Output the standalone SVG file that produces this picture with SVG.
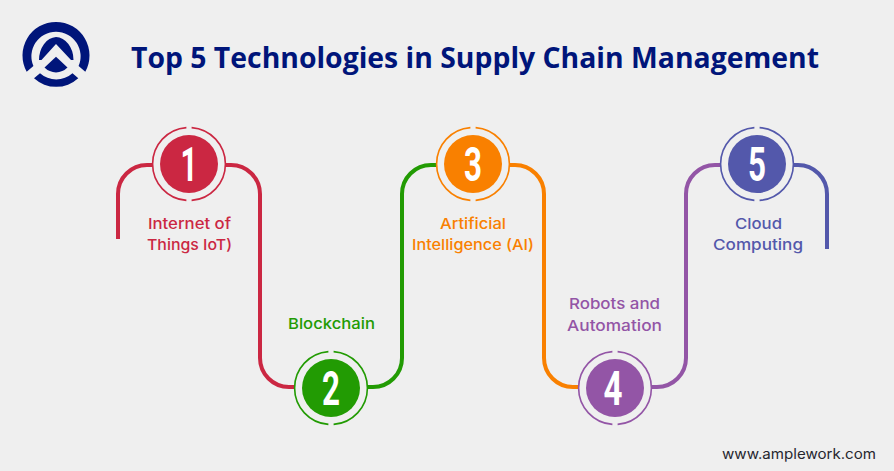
<svg xmlns="http://www.w3.org/2000/svg" xmlns:xlink="http://www.w3.org/1999/xlink" width="894" height="471" viewBox="0 0 894 471">
<style>
.c{fill:none;stroke-width:4}
.lb{font-family:"Inter","Noto Sans","Liberation Sans",sans-serif;font-weight:500;font-size:15px;text-anchor:middle}
.num{font-family:"Roboto","Liberation Sans",sans-serif;font-weight:700;font-size:49px;fill:#fff;text-anchor:middle}
.r{fill:none;stroke:currentColor;stroke-width:1.6}
.d{fill:currentColor}
#title{font-family:"Open Sans","Noto Sans","Liberation Sans",sans-serif;font-weight:700;font-size:28px;fill:#00157a}
#url{font-family:"Inter","Liberation Sans",sans-serif;font-size:14px;fill:#26262e}
</style>
<defs>
<g id="badge"><circle class="d" r="29"/><path class="r" d="M-2.6-36.4A36.5 36.5 0 0 0-2.6 36.4M2.6 36.4A36.5 36.5 0 0 0 2.6-36.4"/></g>
</defs>
<rect width="894" height="471" fill="#efefef"/>
<g id="logo" fill="#00157a">
<path d="M26.7 71.7A33.5 33.5 0 1 1 85.3 71.7L78.6 66A24.6 24.6 0 1 0 33.4 66Z"/>
<path d="M34 78.3L40 73.3A24.5 24.5 0 0 0 72.5 73.3L78.3 78.3A33 33 0 0 1 34 78.3Z"/>
<path d="M39 60A18 23 0 0 1 56 37A18 23 0 0 1 73.5 60L71 60L56 44L41.5 60Z"/>
<path d="M56 56.7L67.5 67.5A16 16 0 0 1 44.5 67.5Z"/>
</g>
<text id="title" x="131" y="67.500" textLength="688" lengthAdjust="spacingAndGlyphs">Top 5 Technologies in Supply Chain Management</text>
<g id="connectors" class="connectors">
<path class="c" stroke="#cb2742" d="M118 239V194A29 29 0 0 1 147 165H153"/>
<path class="c" stroke="#cb2742" d="M225 165H231A29 29 0 0 1 260 194V358A29 29 0 0 0 289 387H295"/>
<path class="c" stroke="#229b03" d="M367 387H373A29 29 0 0 0 402 358V194A29 29 0 0 1 431 165H437"/>
<path class="c" stroke="#f98000" d="M509 165H515A29 29 0 0 1 544 194V358A29 29 0 0 0 573 387H579"/>
<path class="c" stroke="#9355a6" d="M651 387H657A29 29 0 0 0 686 358V194A29 29 0 0 1 715 165H721"/>
<path class="c" stroke="#5358ab" d="M793 165H798A29 29 0 0 1 827 194V249"/>
</g>
<g id="node1" color="#cb2742"><use href="#badge" x="189" y="164"/><text class="num" x="189" y="181" textLength="17" lengthAdjust="spacingAndGlyphs">1</text>
<text class="lb" fill="#cb2742" x="189.500" y="229" textLength="83" lengthAdjust="spacingAndGlyphs">Internet of</text><text class="lb" fill="#cb2742" x="189.500" y="250" textLength="85" lengthAdjust="spacingAndGlyphs">Things IoT)</text></g>
<g id="node2" color="#229b03"><use href="#badge" x="331" y="388"/><text class="num" x="331" y="405" textLength="18" lengthAdjust="spacingAndGlyphs">2</text>
<text class="lb" fill="#229b03" x="331.500" y="329" textLength="87" lengthAdjust="spacingAndGlyphs">Blockchain</text></g>
<g id="node3" color="#f98000"><use href="#badge" x="473" y="164"/><text class="num" x="473" y="181" textLength="18" lengthAdjust="spacingAndGlyphs">3</text>
<text class="lb" fill="#f98000" x="473" y="229" textLength="66" lengthAdjust="spacingAndGlyphs">Artificial</text><text class="lb" fill="#f98000" x="473" y="250" textLength="122" lengthAdjust="spacingAndGlyphs">Intelligence (AI)</text></g>
<g id="node4" color="#9355a6"><use href="#badge" x="615" y="388"/><text class="num" x="613" y="405" textLength="19" lengthAdjust="spacingAndGlyphs">4</text>
<text class="lb" fill="#9355a6" x="614.500" y="309" textLength="91" lengthAdjust="spacingAndGlyphs">Robots and</text><text class="lb" fill="#9355a6" x="614.500" y="331" textLength="95" lengthAdjust="spacingAndGlyphs">Automation</text></g>
<g id="node5" color="#5358ab"><use href="#badge" x="757" y="164"/><text class="num" x="757" y="181" textLength="18" lengthAdjust="spacingAndGlyphs">5</text>
<text class="lb" fill="#5358ab" x="758.500" y="229" textLength="47" lengthAdjust="spacingAndGlyphs">Cloud</text><text class="lb" fill="#5358ab" x="758" y="250" textLength="90" lengthAdjust="spacingAndGlyphs">Computing</text></g>
<text id="url" x="722" y="459" textLength="154" lengthAdjust="spacingAndGlyphs">www.amplework.com</text>
</svg>
